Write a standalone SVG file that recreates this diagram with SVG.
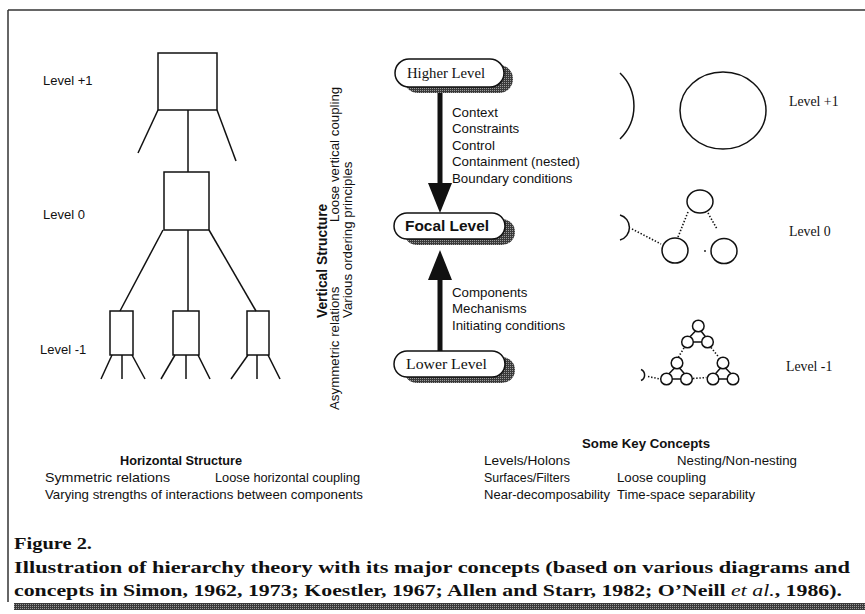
<svg xmlns="http://www.w3.org/2000/svg" width="865" height="614" viewBox="0 0 865 614">
<style>
.sans{font-family:"Liberation Sans",Arial,sans-serif;fill:#111}
.serif{font-family:"Liberation Serif","Times New Roman",serif;fill:#111}
.ln{stroke:#111;stroke-width:1.5;fill:none}
.dot{stroke:#111;stroke-width:1.6;fill:none;stroke-dasharray:1.4 1.8}
.pill{fill:#fff;stroke:#111;stroke-width:1.5}
.shadow{fill:url(#dither)}
</style>
<defs>
<pattern id="dither" width="2" height="2" patternUnits="userSpaceOnUse">
<rect width="2" height="2" fill="#3a3a3a"/><rect width="1" height="1" fill="#9a9a9a"/>
</pattern>
</defs>
<rect width="865" height="614" fill="#fff"/>
<!-- frame -->
<g id="frame">
<line x1="8" y1="10" x2="865" y2="10" stroke="#333" stroke-width="1.5"/>
<line x1="8" y1="10" x2="8" y2="602" stroke="#333" stroke-width="1.5"/>
<rect x="14" y="603" width="851" height="7" fill="url(#dither)"/>
</g>
<!-- left tree -->
<g id="tree-plus1">
<rect class="ln" x="158" y="53" width="59" height="57"/>
<line class="ln" x1="158" y1="110" x2="138" y2="153"/>
<line class="ln" x1="217" y1="110" x2="236" y2="161"/>
<text class="sans" x="43" y="85" font-size="13">Level +1</text>
</g>
<g id="tree-0">
<rect class="ln" x="164" y="172" width="45" height="58"/>
<text class="sans" x="43" y="219" font-size="13">Level 0</text>
</g>
<g id="tree-m1a">
<rect class="ln" x="110" y="311" width="23" height="44"/>
<line class="ln" x1="112" y1="355" x2="101" y2="379"/>
<line class="ln" x1="122" y1="355" x2="122" y2="379"/>
<line class="ln" x1="132" y1="355" x2="145" y2="379"/>
<text class="sans" x="40" y="354" font-size="13">Level -1</text>
</g>
<g id="tree-m1b">
<rect class="ln" x="173" y="311" width="26" height="44"/>
<line class="ln" x1="175" y1="355" x2="161" y2="379"/>
<line class="ln" x1="186" y1="355" x2="186" y2="379"/>
<line class="ln" x1="198" y1="355" x2="210" y2="379"/>
</g>
<g id="tree-m1c">
<rect class="ln" x="247" y="311" width="22" height="44"/>
<line class="ln" x1="248" y1="355" x2="231" y2="379"/>
<line class="ln" x1="257" y1="355" x2="257" y2="379"/>
<line class="ln" x1="268" y1="355" x2="280" y2="379"/>
</g>
<g id="tree-connectors">
<line class="ln" x1="188" y1="110" x2="188" y2="172"/>
<line class="ln" x1="163" y1="230" x2="120" y2="311"/>
<line class="ln" x1="188" y1="230" x2="188" y2="311"/>
<line class="ln" x1="209" y1="230" x2="256" y2="311"/>
</g>
<!-- vertical structure text -->
<g id="vertical-structure">
<text class="sans" font-size="13.8" font-weight="bold" transform="translate(327,318) rotate(-90)">Vertical Structure</text>
<text class="sans" font-size="13.3" transform="translate(339,410) rotate(-90)">Asymmetric relations</text>
<text class="sans" font-size="13.3" transform="translate(339,222) rotate(-90)">Loose vertical coupling</text>
<text class="sans" font-size="13.3" transform="translate(352,318) rotate(-90)">Various ordering principles</text>
</g>
<!-- center pills -->
<g id="higher-level">
<rect class="shadow" x="404" y="65" width="109" height="28" rx="14"/>
<rect class="pill" x="395" y="59" width="109" height="28" rx="14"/>
<text class="serif" x="407" y="78" font-size="14" textLength="78" lengthAdjust="spacingAndGlyphs">Higher Level</text>
</g>
<g id="focal-level">
<rect class="shadow" x="404" y="219" width="111" height="26" rx="13"/>
<rect class="pill" x="394" y="213" width="111" height="26" rx="13"/>
<text class="sans" x="405" y="231" font-size="14" font-weight="bold" textLength="84" lengthAdjust="spacingAndGlyphs">Focal Level</text>
</g>
<g id="lower-level">
<rect class="shadow" x="404" y="357" width="111" height="26" rx="13"/>
<rect class="pill" x="394" y="351" width="111" height="26" rx="13"/>
<text class="serif" x="406" y="369" font-size="14" textLength="81" lengthAdjust="spacingAndGlyphs">Lower Level</text>
</g>
<g id="arrows">
<rect x="437.5" y="93" width="5" height="92" fill="#111"/>
<polygon points="428,183 452,183 440,213" fill="#111"/>
<rect x="437.5" y="278" width="5" height="73" fill="#111"/>
<polygon points="428,280 452,280 440,250" fill="#111"/>
</g>
<g id="down-labels">
<text class="sans" font-size="13.3" x="452" y="116.5">Context</text>
<text class="sans" font-size="13.3" x="452" y="133">Constraints</text>
<text class="sans" font-size="13.3" x="452" y="149.5">Control</text>
<text class="sans" font-size="13.3" x="452" y="166">Containment (nested)</text>
<text class="sans" font-size="13.3" x="452" y="182.5">Boundary conditions</text>
</g>
<g id="up-labels">
<text class="sans" font-size="13.3" x="452" y="296.5">Components</text>
<text class="sans" font-size="13.3" x="452" y="313">Mechanisms</text>
<text class="sans" font-size="13.3" x="452" y="329.5">Initiating conditions</text>
</g>
<!-- right column -->
<g id="holon-plus1">
<path class="ln" d="M620,73 A46,46 0 0 1 620,139"/>
<ellipse class="ln" cx="723" cy="110.5" rx="43" ry="38.5"/>
<text class="serif" x="789" y="106" font-size="13.8">Level +1</text>
</g>
<g id="holon-0">
<path class="ln" d="M620,215 A13,13 0 0 1 620,240"/>
<ellipse class="ln" cx="700" cy="201.5" rx="13" ry="11.5"/>
<ellipse class="ln" cx="675" cy="250.5" rx="13" ry="12.5"/>
<ellipse class="ln" cx="724" cy="251" rx="13" ry="12.5"/>
<line class="dot" x1="632" y1="229" x2="661" y2="244"/>
<line class="dot" x1="688" y1="212" x2="678" y2="237"/>
<line class="dot" x1="708" y1="213" x2="717" y2="229"/>
<circle cx="705" cy="251" r="0.9" fill="#111"/>
<text class="serif" x="789" y="236" font-size="13.8">Level 0</text>
</g>
<g id="holon-m1">
<path class="ln" d="M641,369.5 A6,6 0 0 1 641,380.5"/>
<circle class="ln" cx="698.3" cy="326" r="5.8"/>
<circle class="ln" cx="687.5" cy="342" r="5.8"/>
<circle class="ln" cx="707.5" cy="342" r="5.8"/>
<line class="ln" x1="695.5" y1="331" x2="690" y2="336.8"/>
<line class="ln" x1="701" y1="331" x2="705.5" y2="336.8"/>
<line class="ln" x1="693.3" y1="342" x2="701.7" y2="342"/>
<circle class="ln" cx="677" cy="363" r="5.8"/>
<circle class="ln" cx="666.5" cy="379" r="5.8"/>
<circle class="ln" cx="686.5" cy="379" r="5.8"/>
<line class="ln" x1="674.5" y1="368" x2="669" y2="373.8"/>
<line class="ln" x1="679.5" y1="368" x2="684.5" y2="373.8"/>
<line class="ln" x1="672.3" y1="379" x2="680.7" y2="379"/>
<circle class="ln" cx="723" cy="363" r="5.8"/>
<circle class="ln" cx="713" cy="379" r="5.8"/>
<circle class="ln" cx="733" cy="379" r="5.8"/>
<line class="ln" x1="720.5" y1="368" x2="715.5" y2="373.8"/>
<line class="ln" x1="725.5" y1="368" x2="731" y2="373.8"/>
<line class="ln" x1="718.8" y1="379" x2="727.2" y2="379"/>
<line class="dot" x1="648" y1="376.5" x2="660" y2="379"/>
<line class="dot" x1="693" y1="378.5" x2="706.5" y2="377.5"/>
<line class="dot" x1="684" y1="348" x2="678.5" y2="357"/>
<line class="dot" x1="711" y1="347.5" x2="719" y2="357.5"/>
<text class="serif" x="786" y="371" font-size="13.8">Level -1</text>
</g>
<!-- bottom concept lists -->
<g id="horizontal-structure">
<text class="sans" font-size="13" font-weight="bold" x="120" y="465" textLength="122" lengthAdjust="spacingAndGlyphs">Horizontal Structure</text>
<text class="sans" font-size="13" x="45" y="482" textLength="125" lengthAdjust="spacingAndGlyphs">Symmetric relations</text>
<text class="sans" font-size="13" x="215" y="482" textLength="145" lengthAdjust="spacingAndGlyphs">Loose horizontal coupling</text>
<text class="sans" font-size="13" x="45" y="499" textLength="318" lengthAdjust="spacingAndGlyphs">Varying strengths of interactions between components</text>
</g>
<g id="key-concepts">
<text class="sans" font-size="13" font-weight="bold" x="582" y="448" textLength="128" lengthAdjust="spacingAndGlyphs">Some Key Concepts</text>
<text class="sans" font-size="13" x="484" y="465" textLength="86" lengthAdjust="spacingAndGlyphs">Levels/Holons</text>
<text class="sans" font-size="13" x="677" y="465" textLength="120" lengthAdjust="spacingAndGlyphs">Nesting/Non-nesting</text>
<text class="sans" font-size="13" x="484" y="482" textLength="86" lengthAdjust="spacingAndGlyphs">Surfaces/Filters</text>
<text class="sans" font-size="13" x="617" y="482" textLength="89" lengthAdjust="spacingAndGlyphs">Loose coupling</text>
<text class="sans" font-size="13" x="484" y="499" textLength="126" lengthAdjust="spacingAndGlyphs">Near-decomposability</text>
<text class="sans" font-size="13" x="617" y="499" textLength="138" lengthAdjust="spacingAndGlyphs">Time-space separability</text>
</g>
<!-- caption -->
<g id="caption">
<text class="serif" font-size="17" font-weight="bold" x="14" y="549" textLength="78" lengthAdjust="spacingAndGlyphs">Figure 2.</text>
<text class="serif" font-size="17" font-weight="bold" x="14" y="573" textLength="836" lengthAdjust="spacingAndGlyphs">Illustration of hierarchy theory with its major concepts (based on various diagrams and</text>
<text class="serif" font-size="17" font-weight="bold" x="14" y="596" textLength="828" lengthAdjust="spacingAndGlyphs">concepts in Simon, 1962, 1973; Koestler, 1967; Allen and Starr, 1982; O’Neill <tspan font-style="italic" font-weight="normal">et al.</tspan>, 1986).</text>
</g>
</svg>
